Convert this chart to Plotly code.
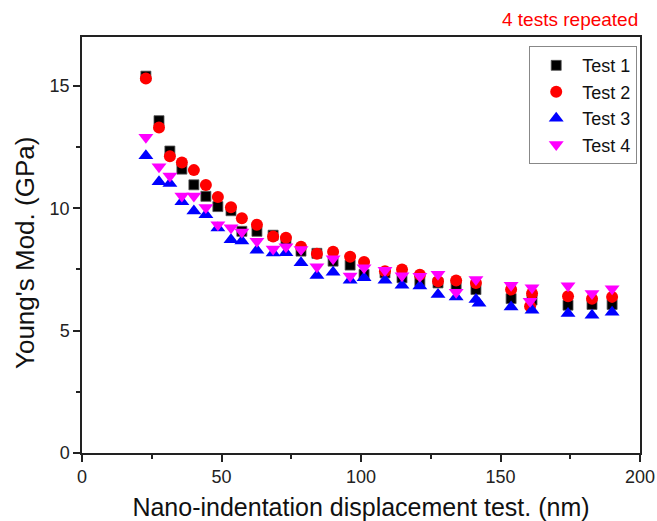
import plotly.graph_objects as go

# Nano-indentation results: Young's modulus vs. displacement for four repeated tests
test1_x = [22.9, 27.6, 31.5, 35.8, 40.1, 44.4, 48.7, 53.4, 57.3, 62.7, 68.5, 73.1, 78.5, 84.2,
           90.0, 96.1, 101.1, 108.6, 114.7, 121.1, 127.6, 134.1, 141.2, 153.8, 161.3, 174.2, 182.8, 190.0]
test1_y = [15.4, 13.58, 12.34, 11.6, 10.96, 10.49, 10.07, 9.9, 9.06, 9.06, 8.9, 8.66, 8.25, 8.16,
           7.84, 7.68, 7.3, 7.36, 7.16, 7.02, 6.95, 6.89, 6.68, 6.31, 6.25, 6.04, 6.07, 6.07]

test2_x = [22.9, 27.6, 31.5, 35.8, 40.1, 44.4, 48.7, 53.4, 57.3, 62.7, 68.5, 73.1, 78.5, 84.2,
           90.0, 96.1, 101.1, 108.6, 114.7, 121.1, 127.6, 134.1, 141.2, 153.8, 160.6, 161.3, 174.2, 182.8, 190.0]
test2_y = [15.3, 13.3, 12.13, 11.87, 11.56, 10.95, 10.46, 10.04, 9.59, 9.33, 8.85, 8.8, 8.43, 8.14,
           8.22, 8.02, 7.81, 7.43, 7.5, 7.28, 7.02, 7.05, 6.95, 6.68, 6.0, 6.52, 6.41, 6.3, 6.38]

test3_x = [22.9, 27.6, 31.5, 35.8, 40.1, 44.4, 48.7, 53.4, 57.3, 62.7, 68.5, 73.1, 78.5, 84.2,
           90.0, 96.1, 101.1, 108.6, 114.7, 121.1, 127.6, 134.1, 141.2, 142.3, 153.8, 161.3, 174.2, 182.8, 190.0]
test3_y = [12.15, 11.08, 11.01, 10.27, 9.89, 9.74, 9.19, 8.71, 8.66, 8.29, 8.17, 8.18, 7.77, 7.25,
           7.39, 7.06, 7.16, 7.06, 6.86, 6.82, 6.48, 6.38, 6.27, 6.12, 5.97, 5.83, 5.7, 5.63, 5.75]

test4_x = [22.9, 27.6, 31.5, 35.8, 40.1, 44.4, 48.7, 53.4, 57.3, 62.7, 68.5, 73.1, 78.5, 84.2,
           90.0, 96.1, 101.1, 108.6, 114.7, 121.1, 127.6, 134.1, 141.2, 153.8, 160.6, 161.3, 174.2, 182.8, 190.0]
test4_y = [12.9, 11.7, 11.32, 10.5, 10.5, 10.03, 9.33, 9.21, 9.03, 8.65, 8.34, 8.43, 8.32, 7.61,
           7.94, 7.23, 7.57, 7.47, 7.24, 7.22, 7.3, 6.57, 7.09, 6.86, 6.2, 6.75, 6.83, 6.52, 6.71]

FONT = "Arial, Liberation Sans, sans-serif"

fig = go.Figure()
fig.add_trace(go.Scatter(x=test1_x, y=test1_y, mode="markers", name="Test 1",
                         marker=dict(symbol="square", size=10, color="#000000",
                                     line=dict(color="#555555", width=0.8))))
fig.add_trace(go.Scatter(x=test2_x, y=test2_y, mode="markers", name="Test 2",
                         marker=dict(symbol="circle", size=12, color="#FF0000", line=dict(width=0))))
fig.add_trace(go.Scatter(x=test3_x, y=test3_y, mode="markers", name="Test 3",
                         marker=dict(symbol="triangle-up", size=13, color="#0000FF", line=dict(width=0))))
fig.add_trace(go.Scatter(x=test4_x, y=test4_y, mode="markers", name="Test 4",
                         marker=dict(symbol="triangle-down", size=13, color="#FF00FF", line=dict(width=0))))

axis_common = dict(
    showline=True, linecolor="#222222", linewidth=1.5, mirror=True,
    ticks="outside", ticklen=7, tickwidth=1.5, tickcolor="#222222",
    showgrid=False, zeroline=False, automargin=False,
    tickfont=dict(family=FONT, size=18, color="#222222"),
)

fig.update_xaxes(range=[0, 200], dtick=50, tick0=0,
                 minor=dict(dtick=25, ticks="outside", ticklen=4, tickwidth=1.5, tickcolor="#222222"),
                 title=dict(text="Nano-indentation displacement test. (nm)",
                            font=dict(family=FONT, size=25, color="#111111"), standoff=14),
                 **axis_common)
fig.update_yaxes(range=[0, 17], dtick=5, tick0=0,
                 minor=dict(dtick=2.5, ticks="outside", ticklen=4, tickwidth=1.5, tickcolor="#222222"),
                 **axis_common)

# y-axis title placed as a rotated annotation, sitting slightly below the plot centre
fig.add_annotation(text="Young's Mod. (GPa)", xref="paper", yref="paper", x=0, y=0.5,
                   xanchor="center", yanchor="middle", xshift=-57, yshift=-8,
                   textangle=-90, showarrow=False,
                   font=dict(family=FONT, size=26, color="#111111"))

fig.add_annotation(text="4 tests repeated", xref="paper", yref="paper", x=1.0, y=1.0,
                   xanchor="right", yanchor="bottom", yshift=5, showarrow=False,
                   font=dict(family=FONT, size=19, color="#FF0000"))

fig.update_layout(
    width=657, height=521,
    margin=dict(l=82, r=17, t=37, b=68, autoexpand=False),
    paper_bgcolor="white", plot_bgcolor="white",
    font=dict(family=FONT),
    legend=dict(x=0.995, y=0.978, xanchor="right", yanchor="top",
                bordercolor="#888888", borderwidth=1, bgcolor="white",
                font=dict(family=FONT, size=18, color="#111111"),
                itemsizing="trace", itemwidth=42, tracegroupgap=0),
    showlegend=True,
)

fig.write_html("out.html")
